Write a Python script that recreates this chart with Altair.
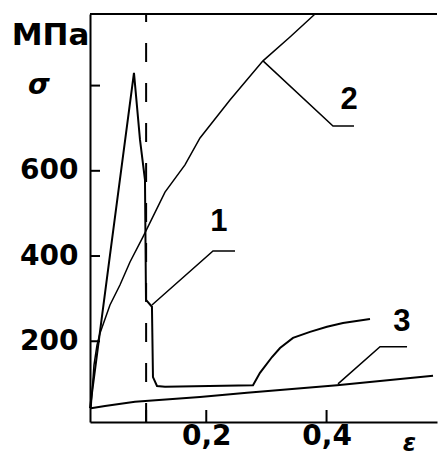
import altair as alt
import pandas as pd

# ---- data (strain ε, stress σ in MPa) ----
eps1 = [0.0067, 0.0399, 0.0798, 0.0831, 0.0898, 0.0981, 0.0998, 0.1097, 0.1114, 0.1181,
        0.1314, 0.2777, 0.2893, 0.3093, 0.3226, 0.3442, 0.3725, 0.4007, 0.4273, 0.4722]
sig1 = [43, 402, 830, 778, 673, 579, 297, 281, 116, 95,
        93, 97, 126, 163, 184, 208, 222, 234, 243, 252]

eps2 = [0.0083, 0.0133, 0.0183, 0.0233, 0.0399, 0.0565, 0.0732, 0.0948, 0.1314, 0.1646,
        0.1896, 0.2394, 0.2943, 0.3392, 0.3808]
sig2 = [43, 144, 191, 219, 285, 332, 386, 445, 550, 614,
        677, 766, 858, 914, 968]

eps3 = [0.0083, 0.0316, 0.0815, 0.1896, 0.2677, 0.4174, 0.5770]
sig3 = [43, 48, 58, 69, 79, 97, 119]

lead_id = [1, 1, 1, 2, 2, 2, 3, 3, 3]
lead_eps = [0.1097, 0.2112, 0.2478, 0.2943, 0.4107, 0.4456, 0.4190, 0.4889, 0.5338]
lead_sig = [285, 412, 412, 858, 705, 705, 100, 187, 187]

label_txt = ["1", "2", "3"]
label_eps = [0.2211, 0.4373, 0.5254]
label_sig = [480, 766, 245]

y_ticks = [200, 400, 600, 800]
y_labels = [200, 400, 600]
x_ticks = [0.1, 0.2, 0.4]
x_labels = [0.2, 0.4]
dash_eps = [0.1]

X0, X1 = 0.0067, 0.5836
Y0, Y1 = 10.5, 968

W, H = 347, 408

xs = alt.Scale(domain=[X0, X1], nice=False, zero=False)
ys = alt.Scale(domain=[Y0, Y1], nice=False, zero=False)

x_axis = alt.Axis(
    values=x_labels,
    labelExpr="replace(format(datum.value, '.1f'), '.', ',')",
    ticks=False, tickSize=0, grid=False,
    domainColor="black", domainWidth=2,
    labelFont="DejaVu Sans", labelFontWeight="bold", labelFontSize=28,
    labelColor="black", labelPadding=0, labelFlush=False,
    title="ε", titleFont="DejaVu Sans", titleFontStyle="italic",
    titleFontWeight="bold", titleFontSize=24, titleColor="black",
    titleX=319, titleY=21, titleAngle=0, titleAlign="center", titleBaseline="middle",
)
y_axis = alt.Axis(
    values=y_labels,
    ticks=False, tickSize=0, grid=False,
    domainColor="black", domainWidth=2,
    labelFont="DejaVu Sans", labelFontWeight="bold", labelFontSize=28,
    labelColor="black", labelPadding=12, labelFlush=False,
    title="МПа", titleFont="DejaVu Sans", titleFontWeight="bold",
    titleFontSize=31, titleColor="black",
    titleX=-40, titleY=21, titleAngle=0, titleAlign="center", titleBaseline="middle",
)


def X(field="e:Q"):
    return alt.X(field, scale=xs, axis=x_axis)


def Y(field="s:Q"):
    return alt.Y(field, scale=ys, axis=y_axis)


c1 = pd.DataFrame({"e": eps1, "s": sig1, "o": range(len(eps1))})
c2 = pd.DataFrame({"e": eps2, "s": sig2, "o": range(len(eps2))})
c3 = pd.DataFrame({"e": eps3, "s": sig3, "o": range(len(eps3))})
leads = pd.DataFrame({"e": lead_eps, "s": lead_sig, "id": lead_id, "o": range(len(lead_id))})
labels = pd.DataFrame({"e": label_eps, "s": label_sig, "t": label_txt})
yt = pd.DataFrame({"s": y_ticks})
xt = pd.DataFrame({"e": x_ticks})
dash = pd.DataFrame({"e": dash_eps})
sigma = pd.DataFrame({"s": [800]})

line1 = alt.Chart(c1).mark_line(color="black", strokeWidth=2).encode(
    x=X(), y=Y(), order="o:Q",
)
line2 = alt.Chart(c2).mark_line(color="black", strokeWidth=1.5).encode(
    x=X(), y=Y(), order="o:Q",
)
line3 = alt.Chart(c3).mark_line(color="black", strokeWidth=2).encode(
    x=X(), y=Y(), order="o:Q",
)
leaders = alt.Chart(leads).mark_line(color="black", strokeWidth=1.5).encode(
    x=X(), y=Y(), detail="id:N", order="o:Q",
)
texts = alt.Chart(labels).mark_text(
    font="Liberation Sans", fontWeight="bold", fontSize=31, color="black",
    align="center", baseline="middle",
).encode(x=X(), y=Y(), text="t:N")
dashed = alt.Chart(dash).mark_rule(
    color="black", strokeWidth=2, strokeDash=[19, 21], strokeDashOffset=11
).encode(
    x=X(), y=alt.value(0), y2=alt.value(H),
)
yticks = alt.Chart(yt).mark_rule(color="black", strokeWidth=2).encode(
    y=Y(), x=alt.value(0), x2=alt.value(10),
)
xticks = alt.Chart(xt).mark_rule(color="black", strokeWidth=2).encode(
    x=X(), y=alt.value(H - 12), y2=alt.value(H),
)
top = alt.Chart(sigma).mark_rule(color="black", strokeWidth=2).encode(
    x=alt.value(0), x2=alt.value(W), y=alt.value(0),
)
sig_txt = alt.Chart(sigma).mark_text(
    text="σ", font="DejaVu Sans", fontStyle="italic", fontWeight="bold",
    fontSize=28, color="black", align="center", baseline="middle",
).encode(
    x=alt.value(-51), y=Y(),
)

chart = alt.layer(
    line1, line2, line3, leaders, texts, dashed, yticks, xticks, top, sig_txt
).properties(
    width=W, height=H,
    padding={"left": 90, "top": 14, "right": 1, "bottom": 33},
    autosize=alt.AutoSizeParams(type="none"),
    background="white",
).configure_view(stroke=None)

chart.save("out.html", embed_options={"renderer": "svg", "actions": False})
